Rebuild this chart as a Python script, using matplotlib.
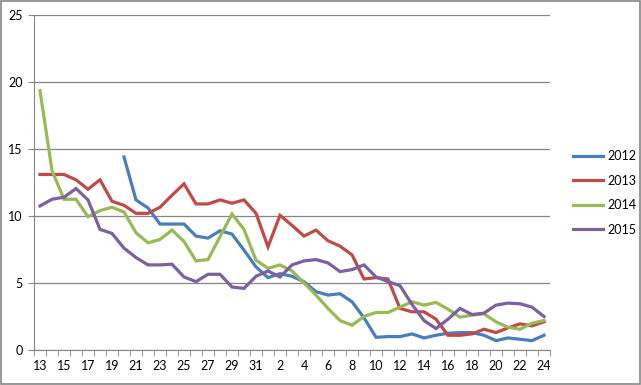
import numpy as np
from matplotlib import pyplot
from matplotlib.patches import Rectangle

nan = np.nan

# category labels along the x axis (13..31, then 1..24)
days = list(range(13, 32)) + list(range(1, 25))

s2012 = [nan, nan, nan, nan, nan, nan, nan,
         14.4, 11.2, 10.6, 9.4, 9.4, 9.4, 8.5, 8.35, 8.9, 8.65, 7.45, 6.2, 5.4,
         5.7, 5.5, 5.1, 4.35, 4.1, 4.2, 3.6, 2.4, 0.95, 1.0, 1.0, 1.2, 0.9,
         1.1, 1.25, 1.3, 1.3, 1.1, 0.7, 0.9, 0.8, 0.7, 1.1]
s2013 = [13.1, 13.1, 13.1, 12.7, 12.0, 12.7, 11.1, 10.8, 10.2, 10.2, 10.65,
         11.55, 12.4, 10.9, 10.9, 11.2, 10.95, 11.2, 10.2, 7.7, 10.05, 9.3,
         8.5, 8.95, 8.15, 7.75, 7.1, 5.3, 5.4, 5.3, 3.1, 2.85, 2.85, 2.3, 1.1,
         1.1, 1.2, 1.55, 1.3, 1.65, 1.95, 1.8, 2.1]
s2014 = [19.35, 13.4, 11.25, 11.25, 9.95, 10.4, 10.65, 10.3, 8.75, 8.0, 8.25,
         8.95, 8.1, 6.65, 6.75, 8.45, 10.15, 9.0, 6.7, 6.1, 6.35, 5.9, 5.0,
         4.1, 3.1, 2.2, 1.85, 2.5, 2.8, 2.8, 3.2, 3.6, 3.35, 3.55, 3.05, 2.45,
         2.6, 2.7, 2.1, 1.7, 1.55, 2.0, 2.2]
s2015 = [10.75, 11.25, 11.4, 12.05, 11.2, 9.0, 8.7, 7.6, 6.9, 6.35, 6.35, 6.4,
         5.45, 5.1, 5.65, 5.65, 4.7, 4.6, 5.5, 5.9, 5.45, 6.35, 6.65, 6.75,
         6.5, 5.85, 6.0, 6.35, 5.45, 5.1, 4.8, 3.4, 2.2, 1.6, 2.3, 3.1, 2.65,
         2.75, 3.35, 3.5, 3.45, 3.2, 2.5]

series = [('2012', s2012, '#4A7EBB'),
          ('2013', s2013, '#BE4B48'),
          ('2014', s2014, '#98B954'),
          ('2015', s2015, '#7D60A0')]

pyplot.rcParams['font.family'] = ['Lato', 'DejaVu Sans']

fig = pyplot.figure(figsize=(6.41, 3.85), dpi=100)
ax = fig.add_axes([34 / 641, 1 - 350 / 385, 516 / 641, 335 / 385])

x = np.arange(len(days))
for name, vals, col in series:
    ax.plot(x, vals, color=col, lw=2.3, label=name, solid_joinstyle='miter')

ax.set_xlim(-0.5, len(days) - 0.5)
ax.set_ylim(0, 25)
ax.set_yticks(range(0, 26, 5))
ax.yaxis.grid(True, color='#868686', lw=0.9)
ax.set_axisbelow(True)

ax.set_xticks(x[::2])
ax.set_xticklabels([str(d) for d in days[::2]])
ax.set_xticks(np.arange(-0.5, len(days), 1), minor=True)
ax.tick_params(axis='x', which='major', length=0, pad=7, labelsize=9)
ax.tick_params(axis='x', which='minor', length=4, color='#868686', direction='out')
ax.tick_params(axis='y', length=4, color='#868686', labelsize=9, pad=4)

for side in ['top', 'right']:
    ax.spines[side].set_visible(False)
for side in ['left', 'bottom']:
    ax.spines[side].set_color('#868686')

fig.legend(loc='center left', bbox_to_anchor=(562 / 641, 1 - 193 / 385),
           frameon=False, fontsize=9, handlelength=2.4, handletextpad=0.3,
           labelspacing=1.0)

fig.add_artist(Rectangle((0.001, 0.002), 0.997, 0.996, transform=fig.transFigure,
                         fill=False, edgecolor='#868686', lw=1.2))

fig.savefig('out.png', dpi=100)
